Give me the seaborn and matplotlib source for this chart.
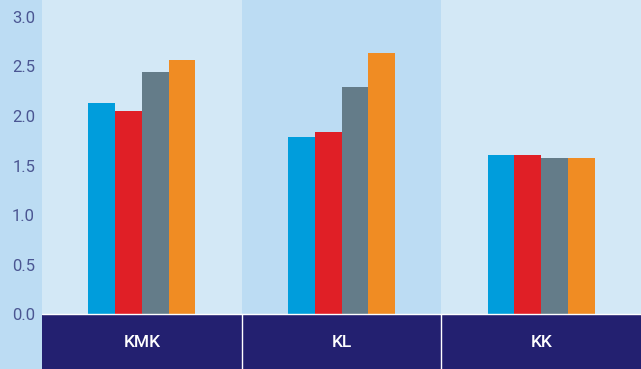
import matplotlib
matplotlib.use("Agg")
import matplotlib.pyplot as plt
import seaborn as sns
import pandas as pd

categories = ["KMK", "KL", "KK"]
series = ["Series 1", "Series 2", "Series 3", "Series 4"]
values = {
    "Series 1": [2.13, 1.79, 1.61],
    "Series 2": [2.05, 1.84, 1.61],
    "Series 3": [2.44, 2.29, 1.58],
    "Series 4": [2.56, 2.63, 1.58],
}
colors = ["#009ddc", "#e01f26", "#647c89", "#f08c23"]
yticks = [0.0, 0.5, 1.0, 1.5, 2.0, 2.5, 3.0]

rows = []
for s in series:
    for c, v in zip(categories, values[s]):
        rows.append({"category": c, "series": s, "value": v})
df = pd.DataFrame(rows)

sns.set_style("white")
plt.rcParams["font.family"] = ["Roboto", "DejaVu Sans"]

W, H = 641, 369
fig = plt.figure(figsize=(W / 100, H / 100), dpi=100)
fig.patch.set_facecolor("#bcdcf3")
left = 42 / W
ax = fig.add_axes([left, 0, 1 - left, 1])
ax.set_facecolor("none")

ymin, ymax = -0.549, 3.168
panel_colors = ["#d3e8f6", "#bcdcf3", "#d3e8f6"]
for i, pc in enumerate(panel_colors):
    ax.axvspan(i - 0.5, i + 0.5, ymin=0, ymax=1, color=pc, zorder=0, lw=0)

sns.barplot(data=df, x="category", y="value", hue="series", order=categories,
            hue_order=series, palette=colors, width=0.535, ax=ax,
            saturation=1, legend=False, linewidth=0, zorder=3)

# bottom category band
ax.axhspan(ymin, 0, color="#232070", zorder=4, lw=0)
ax.axhline(0, color="white", lw=1.0, zorder=5)
for xb in [0.5, 1.5]:
    ax.plot([xb, xb], [ymin, 0], color="white", lw=1.0, zorder=5)
for i, c in enumerate(categories):
    ax.text(i, -0.287, c, color="white", ha="center", va="center",
            fontsize=12.5, fontweight="medium", zorder=6)

ax.set_xlim(-0.5, 2.5)
ax.set_ylim(ymin, ymax)
ax.set_yticks(yticks)
ax.set_yticklabels([f"{t:.1f}" for t in yticks], color="#4b5692", fontsize=12)
ax.tick_params(axis="y", length=0, pad=5)
ax.set_xticks([])
ax.set_xlabel("")
ax.set_ylabel("")
for sp in ax.spines.values():
    sp.set_visible(False)

fig.savefig("out.png", dpi=100, facecolor=fig.get_facecolor())
